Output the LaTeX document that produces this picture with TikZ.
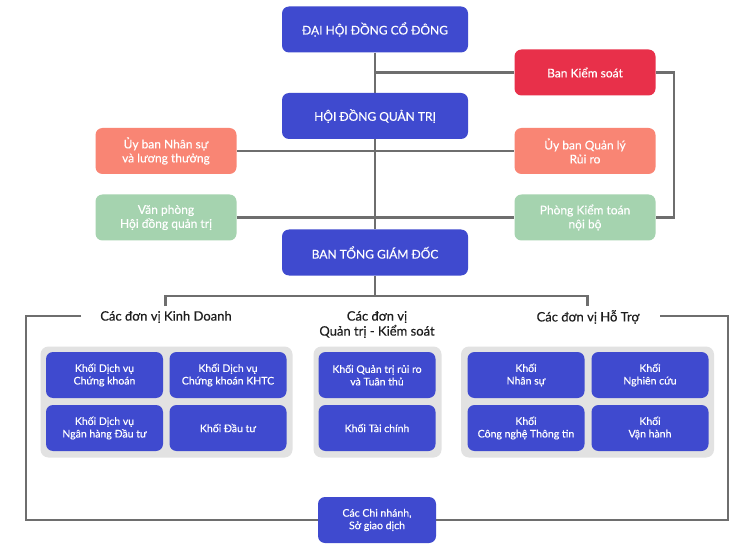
\documentclass[tikz,border=0pt]{standalone}
\usepackage{fontspec}
\setmainfont{Lato}
\newfontfamily\medfont{Lato}[FakeBold=0.35]
\usetikzlibrary{backgrounds}
\definecolor{cblue}{HTML}{3F4ACF}
\definecolor{cred}{HTML}{E8304A}
\definecolor{csalmon}{HTML}{F98574}
\definecolor{cgreen}{HTML}{A5D3AF}
\definecolor{cpanel}{HTML}{E2E2E2}
\definecolor{cline}{HTML}{6E6E6E}
\definecolor{ctext}{HTML}{1E1E1E}
\tikzset{
  box/.style={rectangle, rounded corners=7pt, text=white, align=center, inner sep=0pt},
  bigbox/.style={box, fill=cblue, minimum width=186pt, minimum height=46pt, font=\medfont\fontsize{12}{14}\selectfont},
  sidebox/.style={box, minimum width=141pt, minimum height=46pt, font=\medfont\fontsize{12}{14}\selectfont},
  unitbox/.style={box, fill=cblue, minimum width=117pt, minimum height=46pt, font=\medfont\fontsize{10.5}{12.5}\selectfont},
  panel/.style={rectangle, rounded corners=8pt, fill=cpanel, inner sep=0pt},
  grouplabel/.style={text=ctext, align=center, inner sep=0pt, font=\medfont\fontsize{13}{15}\selectfont},
  conn/.style={draw=cline, line width=2.5pt},
}
\begin{document}
\begin{tikzpicture}[x=1pt,y=-1pt]
\useasboundingbox (0,0) rectangle (747,556);

\node[bigbox] (dh) at (375,29.5) {ĐẠI HỘI ĐỒNG CỔ ĐÔNG};
\node[bigbox] (hd) at (375,116) {HỘI ĐỒNG QUẢN TRỊ};
\node[bigbox] (bt) at (375,252.5) {BAN TỔNG GIÁM ĐỐC};
\node[sidebox, fill=cred] (bks) at (585,72.5) {Ban Kiểm soát};
\node[sidebox, fill=csalmon] (uns) at (166,151) {Ủy ban Nhân sự\\và lương thưởng};
\node[sidebox, fill=csalmon] (uql) at (585,151) {Ủy ban Quản lý\\Rủi ro};
\node[sidebox, fill=cgreen] (vp) at (166,217.5) {Văn phòng\\Hội đồng quản trị};
\node[sidebox, fill=cgreen] (pkt) at (585,217.5) {Phòng Kiểm toán\\nội bộ};

% group labels
\node[grouplabel] (gk) at (166,317) {Các đơn vị Kinh Doanh};
\node[grouplabel] (gq) at (377,324.5) {Các đơn vị\\Quản trị - Kiểm soát};
\node[grouplabel] (gh) at (588,317) {Các đơn vị Hỗ Trợ};

% panels
\node[panel, minimum width=252pt, minimum height=111pt] (pk) at (166.5,402) {};
\node[panel, minimum width=128pt, minimum height=111pt] (pq) at (377.5,402) {};
\node[panel, minimum width=253pt, minimum height=111pt] (ph) at (587.5,402) {};

% unit boxes
\node[unitbox] (k1) at (104.5,375) {Khối Dịch vụ\\Chứng khoán};
\node[unitbox] (k2) at (228,375) {Khối Dịch vụ\\Chứng khoán KHTC};
\node[unitbox] (k3) at (104.5,428) {Khối Dịch vụ\\Ngân hàng Đầu tư};
\node[unitbox] (k4) at (228,428) {Khối Đầu tư};
\node[unitbox] (q1) at (377,375) {Khối Quản trị rủi ro\\và Tuân thủ};
\node[unitbox] (q2) at (377,428) {Khối Tài chính};
\node[unitbox] (h1) at (526,375) {Khối\\Nhân sự};
\node[unitbox] (h2) at (650,375) {Khối\\Nghiên cứu};
\node[unitbox] (h3) at (526,428) {Khối\\Công nghệ Thông tin};
\node[unitbox] (h4) at (650,428) {Khối\\Vận hành};

\node[unitbox, minimum width=118pt] (cn) at (377,520) {Các Chi nhánh,\\Sở giao dịch};

% coordinates for free ends
\coordinate (bkC) at (375,296);
\coordinate (bkL) at (165.5,296);
\coordinate (bkR) at (587.5,296);
\coordinate (bkLd) at (165.5,306);
\coordinate (bkRd) at (587.5,306);
\coordinate (rr) at (674,72.5);
\coordinate (fl1) at (81,316);
\coordinate (fl2) at (26,316);
\coordinate (fl3) at (26,520);
\coordinate (fr1) at (660,316);
\coordinate (fr2) at (728,316);
\coordinate (fr3) at (728,520);

\begin{pgfonlayer}{background}
\fill[white] (0,0) rectangle (747,556);
\begin{scope}[conn]
\draw (dh.south) -- (hd.north);
\draw (hd.south) -- (bt.north);
\draw (bks.west) -- (bks.west -| dh.south);
\draw (uns.east) -- (uql.west);
\draw (vp.east) -- (pkt.west);
\draw (bks.east) -- (rr) |- (pkt.east);
\draw (bt.south) -- (bkC);
\draw (bkLd) -- (bkL) -- (bkR) -- (bkRd);
\draw (fl1) -- (fl2) -- (fl3) -- (cn.west);
\draw (cn.east) -- (fr3) -- (fr2) -- (fr1);
\end{scope}
\end{pgfonlayer}
\end{tikzpicture}
\end{document}
